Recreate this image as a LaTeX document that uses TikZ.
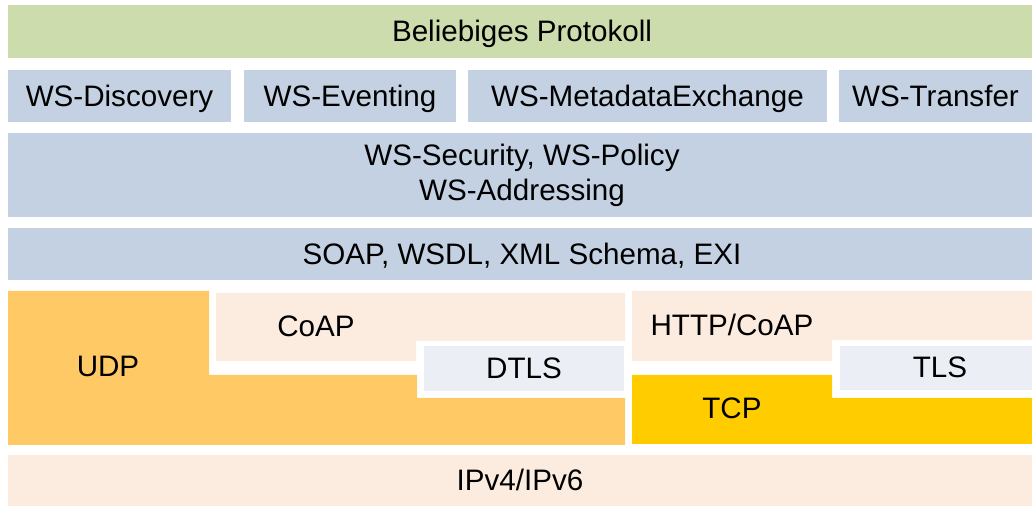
\documentclass[tikz,border=0pt]{standalone}
\usepackage{fontspec}
\setmainfont{Liberation Sans}
\definecolor{anygreen}{RGB}{205,220,172}
\definecolor{wsblue}{RGB}{196,209,227}
\definecolor{peach}{RGB}{252,236,224}
\definecolor{secgrey}{RGB}{235,239,245}
\definecolor{udporange}{RGB}{255,202,102}
\definecolor{tcpyellow}{RGB}{255,204,0}
\tikzset{
  lbl/.style={font=\fontsize{14.8}{17.5}\selectfont,text height=10.7pt,
    text depth=0pt,inner sep=0pt},
  twolines/.style={font=\fontsize{14.8}{17.5}\selectfont,align=center,
    inner sep=0pt}
}

\begin{document}
\begin{tikzpicture}[x=.5pt,y=-.5pt]
\useasboundingbox (0,0) rectangle (1032,506);
% Anwendung
\fill[anygreen] (8,5) rectangle (1032,58);
\node[lbl] (any) at (522,31) {Beliebiges Protokoll};
% WS-* Spezifikationen
\fill[wsblue] (8,70) rectangle (231,122);
\fill[wsblue] (244,70) rectangle (456,122);
\fill[wsblue] (468,70) rectangle (827,122);
\fill[wsblue] (839,70) rectangle (1032,122);
\node[lbl] (disc) at (119.5,96) {WS-Discovery};
\node[lbl] (event) at (350,96) {WS-Eventing};
\node[lbl] (mex) at (647.5,96) {WS-MetadataExchange};
\node[lbl] (transfer) at (935.5,96) {WS-Transfer};
\fill[wsblue] (8,133) rectangle (1032,217);
\node[twolines] (sec) at (522,175) {WS-Security, WS-Policy\\WS-Addressing};
\fill[wsblue] (8,228) rectangle (1032,280);
\node[lbl] (soap) at (522,254) {SOAP, WSDL, XML Schema, EXI};
% UDP-Zweig
\fill[udporange] (8,291) -- (209,291) -- (209,375) -- (417,375) --
  (417,398) -- (625,398) -- (625,445) -- (8,445) -- cycle;
\fill[peach] (216,293) -- (625,293) -- (625,341) -- (416,341) --
  (416,361) -- (216,361) -- cycle;
\fill[secgrey] (424,346) rectangle (624,391);
\node[lbl] (udp) at (108,366) {UDP};
\node[lbl] (coap) at (316,326) {CoAP};
\node[lbl] (dtls) at (524,368) {DTLS};
% TCP-Zweig
\fill[peach] (632,291) -- (1032,291) -- (1032,340) -- (832,340) --
  (832,361) -- (632,361) -- cycle;
\fill[secgrey] (840,346) rectangle (1032,390);
\fill[tcpyellow] (632,375) -- (832,375) -- (832,398) -- (1032,398) --
  (1032,444) -- (632,444) -- cycle;
\node[lbl] (http) at (732,325) {HTTP/CoAP};
\node[lbl] (tls) at (940,367) {TLS};
\node[lbl] (tcp) at (732,408) {TCP};
% Vermittlung
\fill[peach] (8,455) rectangle (1032,506);
\node[lbl] (ip) at (520,480) {IPv4/IPv6};
\end{tikzpicture}
\end{document}
